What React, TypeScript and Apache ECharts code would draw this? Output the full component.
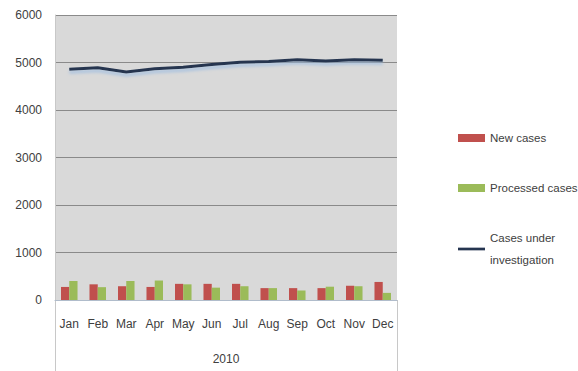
import React, { useEffect, useRef } from "react";
import * as echarts from "echarts";

const months = ["Jan", "Feb", "Mar", "Apr", "May", "Jun", "Jul", "Aug", "Sep", "Oct", "Nov", "Dec"];
const groupLabels = ["2010"];
const newCases = [275, 330, 290, 275, 340, 340, 340, 250, 250, 250, 300, 380];
const processedCases = [400, 270, 400, 410, 330, 260, 290, 250, 200, 280, 290, 150];
const underInvestigation = [4860, 4890, 4800, 4870, 4900, 4960, 5005, 5020, 5060, 5030, 5060, 5045];
const yTicks = { min: 0, max: 6000, interval: 1000 };

const FONT = "'Liberation Sans', Arial, sans-serif";
const TEXT = "#404040";

export default function App() {
  const ref = useRef<HTMLDivElement>(null);
  useEffect(() => {
    if (!ref.current) return;
    const chart = echarts.init(ref.current, undefined, { renderer: "svg" });
    const gridLeft = 55;
    const gridRight = 181;
    const gridTop = 15;
    const gridBottom = 71;
    const W = 578;
    const H = 371;
    chart.setOption({
      animation: false,
      backgroundColor: "#ffffff",
      textStyle: { fontFamily: FONT },
      grid: {
        left: gridLeft,
        right: gridRight,
        top: gridTop,
        bottom: gridBottom,
        show: true,
        backgroundColor: "#d9d9d9",
        borderWidth: 0,
      },
      legend: {
        orient: "vertical",
        left: 453,
        top: 122,
        itemWidth: 27,
        itemHeight: 8,
        itemGap: 28,
        textStyle: { fontFamily: FONT, fontSize: 11.5, color: TEXT, lineHeight: 22 },
        formatter: (name: string) => (name === "Cases under investigation" ? "Cases under\ninvestigation" : name),
        data: [
          { name: "New cases", icon: "rect" },
          { name: "Processed cases", icon: "rect" },
          { name: "Cases under investigation", icon: "path://M0,0 L30,0 L30,3 L0,3 Z" },
        ],
      },
      xAxis: [
        {
          type: "category",
          data: months,
          position: "bottom",
          axisLine: { show: true, lineStyle: { color: "#b0bccb", width: 1 } },
          axisTick: { show: false },
          axisLabel: { color: TEXT, fontSize: 12, fontFamily: FONT, margin: 18, interval: 0 },
        },
        {
          type: "category",
          data: groupLabels,
          position: "bottom",
          offset: 35,
          axisLine: { show: false },
          axisTick: { show: false },
          axisLabel: { color: TEXT, fontSize: 12, fontFamily: FONT, margin: 18 },
        },
      ],
      yAxis: {
        type: "value",
        min: yTicks.min,
        max: yTicks.max,
        interval: yTicks.interval,
        axisLine: { show: true, lineStyle: { color: "#c8c8c8" } },
        axisTick: { show: false },
        axisLabel: { color: TEXT, fontSize: 12, fontFamily: FONT, margin: 13, formatter: (v: number) => String(v) },
        splitLine: { show: true, lineStyle: { color: "#8a8a8a", width: 1 } },
      },
      series: [
        {
          name: "New cases",
          type: "bar",
          data: newCases,
          barGap: "0%",
          barCategoryGap: "42%",
          itemStyle: { color: "#c0504d" },
        },
        {
          name: "Processed cases",
          type: "bar",
          data: processedCases,
          itemStyle: { color: "#9bbb59" },
        },
        {
          name: "Cases under investigation",
          type: "line",
          data: underInvestigation,
          symbol: "none",
          itemStyle: { color: "#253550" },
          lineStyle: {
            color: "#253550",
            width: 3,
            shadowColor: "rgba(150,185,225,0.7)",
            shadowBlur: 3,
            shadowOffsetY: 3,
          },
        },
      ],
      graphic: [
        {
          type: "line",
          shape: { x1: gridLeft + 0.5, y1: H - gridBottom, x2: gridLeft + 0.5, y2: H },
          style: { stroke: "#c8c8c8", lineWidth: 1 },
        },
        {
          type: "line",
          shape: { x1: W - gridRight + 0.5, y1: H - gridBottom, x2: W - gridRight + 0.5, y2: H },
          style: { stroke: "#c8c8c8", lineWidth: 1 },
        },
      ],
    });
    return () => chart.dispose();
  }, []);
  return <div ref={ref} style={{ width: 578, height: 371, position: "absolute", left: 0, top: 0 }} />;
}
